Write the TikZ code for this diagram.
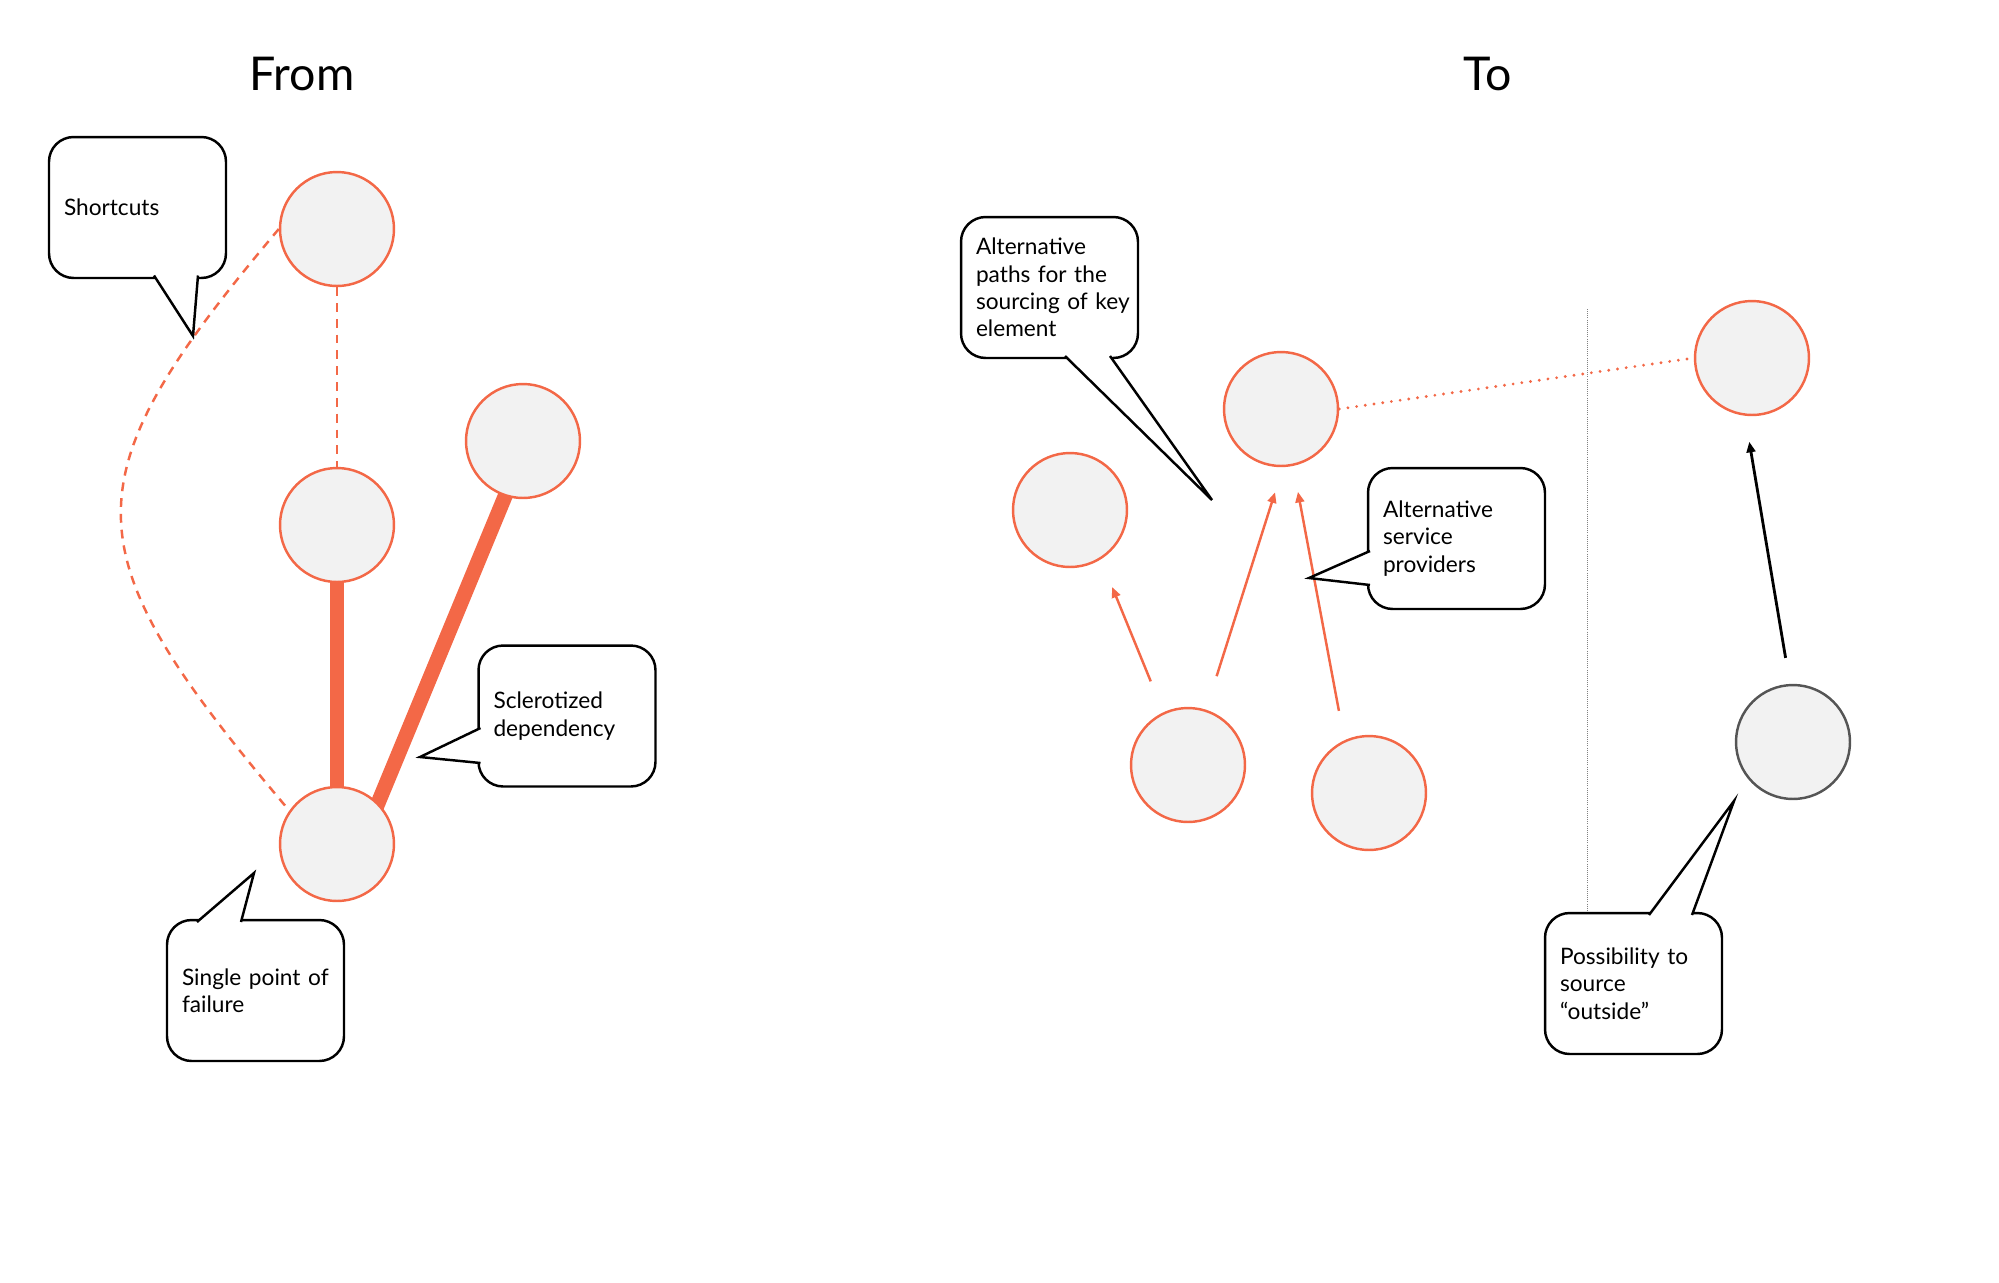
\documentclass[tikz,border=0pt]{standalone}
\usepackage{fontspec}
\setmainfont{Lato}[WordSpace=0.8]
\usetikzlibrary{arrows.meta}
\definecolor{coral}{RGB}{243,104,71}
\definecolor{nodefill}{RGB}{242,242,242}
\definecolor{ringgray}{RGB}{85,85,85}
\pgfdeclarelayer{bg}
\pgfsetlayers{bg,main}

\begin{document}
\begin{tikzpicture}[x=0.02cm, y=-0.02cm, >={Triangle[length=6pt,width=5pt]},
    site/.style={circle, draw=coral, line width=1.4pt, fill=nodefill, minimum size=2.28cm, inner sep=0pt},
    bubble/.style={draw, line width=1.4pt, rounded corners=14pt, fill=white, minimum width=3.54cm, minimum height=2.82cm,
        inner xsep=0.3cm, text width=2.94cm, align=left, font=\fontsize{12.9}{15.5}\selectfont},
    tail/.style={draw, line width=1.4pt, fill=white},
    title/.style={font=\fontsize{26.5}{30}\selectfont},
    dashlink/.style={coral, line width=1.4pt, dash pattern=on 5pt off 4pt},
    thicklink/.style={coral, line width=8.5pt, shorten <=-3pt, shorten >=-3pt},
    feed/.style={->, coral, line width=1.4pt}]
    \useasboundingbox (0,0) rectangle (1999,1282);

    % Titles
    \node[title] (from) at (302,74) {From};
    \node[title] (to) at (1488,74) {To};

    % From: nodes
    \node[site] (a) at (337,229) {};
    \node[site] (b) at (337,525) {};
    \node[site] (c) at (523,441) {};
    \node[site] (d) at (337,844) {};

    % From: links
    \draw[dashlink] (a) -- (b);
    \draw[dashlink] (a.west) .. controls (65,483) and (68,549) .. (d.145);
    \begin{pgfonlayer}{bg}
        \draw[thicklink] (b) -- (d);
        \draw[thicklink] (d.45) -- (c.-108);
    \end{pgfonlayer}

    % From: callouts
    \node[bubble] (shortcuts) at (137.5,207.5) {Shortcuts};
    \draw[tail] (154,275.5) -- (193,336) -- (198,275.5);

    \node[bubble] (scler) at (567,716) {Sclerotized\\dependency};
    \draw[tail] (480.5,728) -- (420,757) -- (480.5,763);

    \node[bubble] (single) at (255.5,990.5) {Single~point~of\\failure};
    \draw[tail] (197,922) -- (254,873) -- (241,922);

    % To: nodes
    \node[site] (e) at (1070,510) {};
    \node[site] (f) at (1281,409) {};
    \node[site] (g) at (1188,765) {};
    \node[site] (h) at (1369,793) {};
    \node[site] (i) at (1752,358) {};
    \node[site, draw=ringgray] (j) at (1793,742) {};

    % Boundary
    \draw[gray, line width=0.4pt, dash pattern=on 0.5pt off 0.7pt] (1587,309) -- (1587,912);

    % To: links
    \draw[coral, line width=1.8pt, line cap=round, dash pattern=on 0pt off 5pt] (f.east) -- (i.west);
    \draw[feed, shorten <=19pt, shorten >=17pt] (g.115) -- (e.-58);
    \draw[feed, shorten <=20pt, shorten >=15pt] (g.72) -- (f.-88);
    \draw[feed, shorten <=17pt, shorten >=15pt] (h.115) -- (f.-78);
    \draw[->, line width=1.6pt, shorten <=15pt, shorten >=15pt] (j.93) -- (i.-97);

    % To: callouts
    \node[bubble] (altpaths) at (1049.5,287.5) {Alternative\\paths~for~the\\sourcing~of~key\\element};
    \draw[tail] (1065,356) -- (1212,500) -- (1110,356);

    \node[bubble] (service) at (1456.5,538.5) {Alternative\\service\\providers};
    \draw[tail] (1370,551) -- (1309,578) -- (1370,585);

    \node[bubble] (outside) at (1633.5,983.5) {Possibility~to\\source\\“outside”};
    \draw[tail] (1649,915) -- (1734,801) -- (1692,915);

\end{tikzpicture}
\end{document}
